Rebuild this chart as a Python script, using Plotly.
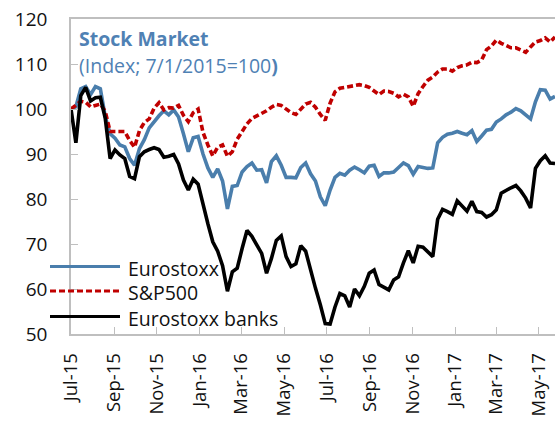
import pandas as pd
import plotly.graph_objects as go

# Weekly observations starting 1 July 2015 (index, 7/1/2015 = 100)
dates = pd.date_range("2015-07-01", periods=100, freq="7D")

eurostoxx = [100, 100.5, 104.5, 105, 103.2, 105, 104.5, 98.3, 94.5, 93.5,
             92, 91.6, 89, 87.5, 91.2, 93.2, 95.8, 97.3, 98.5, 99.6,
             98.7, 99.8, 98.2, 94.5, 90.5, 93.6, 93.9, 90, 86.9, 84.8,
             86.7, 84, 77.8, 82.8, 83, 86, 87.2, 88, 86.4, 86.5,
             83.6, 88.3, 89.6, 87.5, 84.8, 84.8, 84.7, 87, 88, 85.6,
             84, 80.5, 78.5, 82, 84.8, 85.7, 85.3, 86.4, 87.1, 86.5,
             85.8, 87.3, 87.5, 85, 85.8, 85.8, 86, 87, 88, 87.4,
             85.5, 87.2, 87, 86.8, 86.9, 92.5, 93.7, 94.4, 94.6, 95,
             94.6, 94.3, 95.2, 92.8, 94, 95.3, 95.5, 97.1, 97.8, 98.7,
             99.3, 100.1, 99.6, 98.8, 97.8, 101.6, 104.3, 104.2, 102.2, 102.8]

sp500 = [100, 100.8, 101.7, 101.5, 100.5, 100.8, 101.1, 99.5, 95, 95,
         95, 95, 93, 91.5, 95.2, 97, 97.8, 100.2, 101.4, 99.8,
         100.3, 100.2, 100.8, 98.6, 97.2, 99.2, 100, 94.8, 92, 89.6,
         91.5, 92, 89.5, 90.5, 93.3, 95.2, 96.7, 97.9, 98.4, 98.9,
         99.6, 100.4, 101, 100.8, 100.1, 99.2, 98.8, 100, 101.1, 101.5,
         100.4, 98.8, 97.5, 101.3, 103.8, 104.6, 104.8, 105.1, 105.4, 105.4,
         105.2, 104.8, 104, 103.2, 104, 103.9, 103.5, 102.7, 103.3, 102.7,
         100.6, 103.4, 105, 106.4, 107.1, 108.2, 108.9, 108.9, 108.4, 109.2,
         109.6, 109.8, 110.4, 110.3, 110.9, 113.2, 114, 115.3, 114.6, 114.2,
         113.6, 113.6, 113.1, 112.6, 113.8, 114.9, 115.2, 115.8, 114.9, 116]

banks = [100, 92.5, 103, 104.8, 101.8, 102.5, 102.6, 98, 89, 90.9,
         89.8, 89, 85, 84.5, 89.4, 90.5, 91, 91.4, 91, 89.3,
         89.5, 89.9, 87.8, 84.2, 82, 84.4, 83.3, 78.6, 74.5, 70.5,
         68.4, 65.2, 59.5, 63.8, 64.6, 69, 73, 71.7, 69.8, 67.9,
         63.5, 66.8, 70.8, 71.8, 67.2, 65, 65.6, 69.6, 68.4, 64,
         60.2, 56.5, 52.3, 52.2, 56, 59, 58.5, 56, 60, 58.5,
         60.6, 63.5, 64.2, 61, 60.3, 59.8, 62, 62.7, 65.8, 68.5,
         65.8, 69.5, 69.3, 68.2, 67.2, 75.5, 77.7, 77.2, 76.6, 79.6,
         78.3, 77.3, 79.5, 77.2, 77, 76, 76.5, 77.6, 81.3, 82,
         82.5, 83, 81.8, 80.2, 78, 86.8, 88.5, 89.6, 88, 87.9]

series_names = ["Eurostoxx", "S&P500", "Eurostoxx banks"]
tick_dates = ["2015-07-01", "2015-09-01", "2015-11-01", "2016-01-01", "2016-03-01",
              "2016-05-01", "2016-07-01", "2016-09-01", "2016-11-01", "2017-01-01",
              "2017-03-01", "2017-05-01"]
tick_labels = ["Jul-15", "Sep-15", "Nov-15", "Jan-16", "Mar-16", "May-16",
               "Jul-16", "Sep-16", "Nov-16", "Jan-17", "Mar-17", "May-17"]
y_ticks = [50, 60, 70, 80, 90, 100, 110, 120]

BLUE = "#4a7eac"
RED = "#c00000"
BLACK = "#000000"
TITLE_BLUE = "#4f81b4"
AXIS_GREY = "#bfbfbf"
FONT = "Open Sans"

styles = [dict(color=BLUE, width=3.6, dash="solid"),
          dict(color=RED, width=3.6, dash="6px,3px"),
          dict(color=BLACK, width=3.6, dash="solid")]

fig = go.Figure()
for name, vals, st in zip(series_names, [eurostoxx, sp500, banks], styles):
    fig.add_trace(go.Scatter(x=dates, y=vals, mode="lines", name=name,
                             line=st, showlegend=False, hoverinfo="x+y+name"))

# plot area geometry (pixels) used to place the manual legend/title
W, H = 555, 429
L, R, T, B = 71, 0, 19, 95
pw, ph = W - L - R, H - T - B

def px(x):
    return (x - L) / pw

def py(y):
    return (H - B - y) / ph

shapes = []
annotations = []
legend_y = [266.5, 291, 316.5]
for name, st, yy in zip(series_names, styles, legend_y):
    shapes.append(dict(type="line", xref="paper", yref="paper",
                       x0=px(50), x1=px(120), y0=py(yy), y1=py(yy),
                       line=dict(color=st["color"], width=3.2, dash=st["dash"]),
                       layer="above"))
    annotations.append(dict(text=name, xref="paper", yref="paper",
                            x=px(126), y=py(yy + 1.5), xanchor="left", yanchor="middle",
                            showarrow=False, font=dict(family=FONT, size=19.5, color="#111111")))

annotations.append(dict(text="<b>Stock Market</b>", xref="paper", yref="paper",
                        x=px(77), y=py(38), xanchor="left", yanchor="middle",
                        showarrow=False, font=dict(family=FONT, size=19.5, color=TITLE_BLUE)))
annotations.append(dict(text="(Index; 7/1/2015=100<b>)</b>", xref="paper", yref="paper",
                        x=px(77), y=py(65), xanchor="left", yanchor="middle",
                        showarrow=False, font=dict(family=FONT, size=19.5, color=TITLE_BLUE)))

fig.update_layout(
    width=W, height=H,
    margin=dict(l=L, r=R, t=T, b=B, pad=0, autoexpand=False),
    paper_bgcolor="white", plot_bgcolor="white",
    font=dict(family=FONT, size=18, color="#111111"),
    shapes=shapes, annotations=annotations,
    showlegend=False,
)
fig.update_xaxes(
    type="date", range=["2015-07-01", "2017-05-24"], automargin=False,
    tickvals=tick_dates, ticktext=tick_labels, tickangle=-90,
    ticks="inside", ticklen=7, tickwidth=1.3, tickcolor=AXIS_GREY,
    showline=True, linecolor=AXIS_GREY, linewidth=1.5, mirror=True,
    showgrid=False, zeroline=False, ticklabelstandoff=10,
    tickfont=dict(family=FONT, size=18.5, color="#111111"),
)
fig.update_yaxes(
    range=[50, 120], tickvals=y_ticks, automargin=False,
    ticks="inside", ticklen=7, tickwidth=1.3, tickcolor=AXIS_GREY,
    showline=True, linecolor=AXIS_GREY, linewidth=1.5,
    showgrid=False, zeroline=False, ticklabelstandoff=18,
    tickfont=dict(family=FONT, size=19, color="#111111"),
)

# remove the browser's default 8px page margin so the figure sits at (0, 0)
fig.write_html("out.html", config={"displayModeBar": False},
               post_script="document.body.style.margin='0';")
